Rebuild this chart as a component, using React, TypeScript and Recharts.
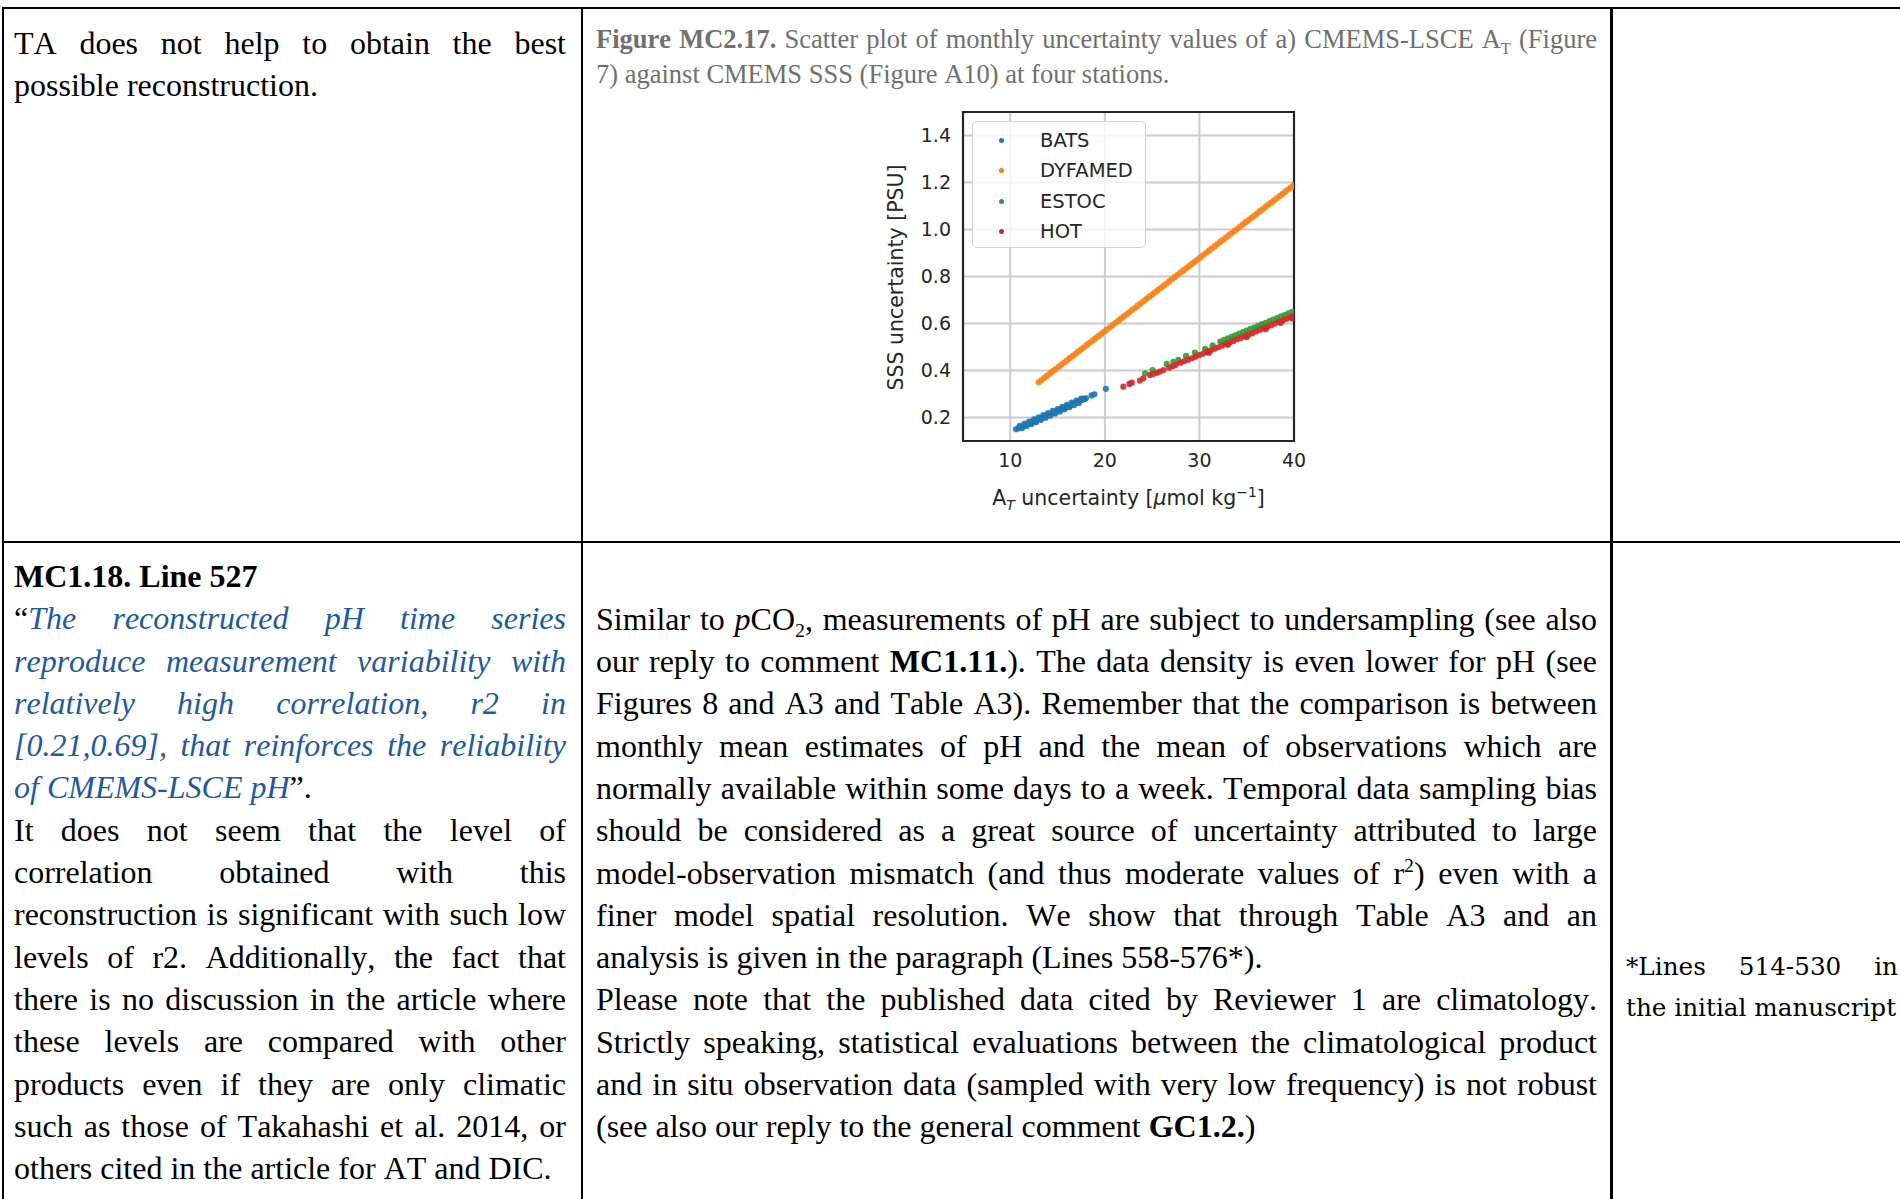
import React from 'react';
import { ScatterChart, Scatter, XAxis, YAxis, CartesianGrid, ReferenceArea, Legend, Label } from 'recharts';

const STATIONS = ['BATS', 'DYFAMED', 'ESTOC', 'HOT'];
const COLORS = ['#1f77b4', '#ff7f0e', '#2ca02c', '#d62728'];
const X_TICKS = [10, 20, 30, 40];
const Y_TICKS = [0.2, 0.4, 0.6, 0.8, 1.0, 1.2, 1.4];

// [A_T uncertainty, SSS uncertainty]
const BATS: [number, number][] = [
  [10.6, 0.15], [10.85, 0.154], [11.1, 0.159], [11.35, 0.163], [11.6, 0.168], [11.85, 0.172],
  [12.1, 0.177], [12.35, 0.181], [12.6, 0.186], [12.85, 0.19], [13.1, 0.195], [13.35, 0.199],
  [13.6, 0.203], [13.85, 0.208], [14.1, 0.212], [14.35, 0.217], [14.6, 0.221], [14.85, 0.226],
  [15.1, 0.23], [15.35, 0.235], [15.6, 0.239], [15.85, 0.244], [16.1, 0.248], [16.35, 0.252],
  [16.6, 0.257], [16.85, 0.261], [17.1, 0.266], [17.35, 0.27], [17.6, 0.275], [17.85, 0.279],
  [18.0, 0.282],
  [11.0, 0.165], [11.5, 0.174], [12.0, 0.183], [12.5, 0.192], [13.0, 0.201], [13.5, 0.21],
  [14.0, 0.219], [14.5, 0.228], [15.0, 0.236], [15.5, 0.245], [16.0, 0.254], [16.5, 0.263],
  [17.0, 0.272], [17.5, 0.28],
  [11.25, 0.155], [11.75, 0.164], [12.25, 0.172], [12.75, 0.181], [13.25, 0.19], [13.75, 0.199],
  [14.25, 0.208], [14.75, 0.217], [15.25, 0.226], [15.75, 0.235], [16.25, 0.244], [16.75, 0.253],
  [17.25, 0.262],
  [18.6, 0.294], [18.9, 0.299], [20.1, 0.322],
];

const DYFAMED: [number, number][] = [
  [13.0, 0.35], [13.3, 0.359], [13.6, 0.369], [13.9, 0.378], [14.2, 0.387], [14.5, 0.397],
  [14.8, 0.406], [15.1, 0.415], [15.4, 0.425], [15.7, 0.434], [16.0, 0.443], [16.3, 0.453],
  [16.6, 0.462], [16.9, 0.471], [17.2, 0.481], [17.5, 0.49], [17.8, 0.499], [18.1, 0.509],
  [18.4, 0.518], [18.7, 0.527], [19.0, 0.537], [19.3, 0.546], [19.6, 0.555], [19.9, 0.565],
  [20.2, 0.574], [20.5, 0.583], [20.8, 0.593], [21.1, 0.602], [21.4, 0.611], [21.7, 0.621],
  [22.0, 0.63], [22.3, 0.639], [22.6, 0.649], [22.9, 0.658], [23.2, 0.667], [23.5, 0.677],
  [23.8, 0.686], [24.1, 0.695], [24.4, 0.705], [24.7, 0.714], [25.0, 0.723], [25.3, 0.733],
  [25.6, 0.742], [25.9, 0.751], [26.2, 0.761], [26.5, 0.77], [26.8, 0.779], [27.1, 0.789],
  [27.4, 0.798], [27.7, 0.807], [28.0, 0.817], [28.3, 0.826], [28.6, 0.835], [28.9, 0.844],
  [29.2, 0.854], [29.5, 0.863], [29.8, 0.872], [30.1, 0.882], [30.4, 0.891], [30.7, 0.9],
  [31.0, 0.91], [31.3, 0.919], [31.6, 0.928], [31.9, 0.938], [32.2, 0.947], [32.5, 0.956],
  [32.8, 0.966], [33.1, 0.975], [33.4, 0.984], [33.7, 0.994], [34.0, 1.003], [34.3, 1.012],
  [34.6, 1.022], [34.9, 1.031], [35.2, 1.04], [35.5, 1.05], [35.8, 1.059], [36.1, 1.068],
  [36.4, 1.078], [36.7, 1.087], [37.0, 1.096], [37.3, 1.106], [37.6, 1.115], [37.9, 1.124],
  [38.2, 1.134], [38.5, 1.143], [38.8, 1.152], [39.1, 1.162], [39.4, 1.171], [39.7, 1.18],
  [40.0, 1.19],
];

const ESTOC: [number, number][] = [
  [24.25, 0.388], [25.05, 0.402], [26.54, 0.428], [27.24, 0.437], [27.77, 0.445], [28.58, 0.462],
  [29.53, 0.476], [30.6, 0.492], [31.4, 0.507],
  [32.2, 0.523], [32.6, 0.53], [33.0, 0.537], [33.4, 0.543], [33.8, 0.55], [34.2, 0.557],
  [34.6, 0.563], [35.0, 0.57], [35.4, 0.577], [35.8, 0.583], [36.2, 0.59], [36.6, 0.597],
  [37.0, 0.603], [37.4, 0.61], [37.8, 0.617], [38.2, 0.623], [38.6, 0.63], [39.0, 0.636],
  [39.4, 0.643], [39.8, 0.65],
];

const HOT: [number, number][] = [
  [21.95, 0.331], [22.6, 0.343], [22.85, 0.348], [23.7, 0.357], [24.07, 0.367], [24.77, 0.381],
  [25.1, 0.385], [25.5, 0.39], [25.8, 0.395], [26.2, 0.402], [26.8, 0.412], [27.2, 0.419],
  [27.5, 0.424], [28.0, 0.433], [28.4, 0.44], [28.8, 0.446], [29.2, 0.452], [29.6, 0.459],
  [30.0, 0.466], [30.4, 0.472], [30.8, 0.479], [31.2, 0.486], [31.6, 0.493], [32.0, 0.499],
  [32.4, 0.506], [32.8, 0.513], [33.2, 0.519], [33.6, 0.526], [34.0, 0.533], [34.4, 0.539],
  [34.8, 0.546], [35.2, 0.553], [35.6, 0.559], [36.0, 0.566], [36.4, 0.573], [36.8, 0.58],
  [37.2, 0.586], [37.6, 0.593], [38.0, 0.6], [38.4, 0.606], [38.8, 0.613], [39.2, 0.62],
  [39.6, 0.626], [39.9, 0.631],
  [31.0, 0.476], [33.0, 0.51], [35.0, 0.543], [37.0, 0.576], [38.6, 0.603], [39.8, 0.622],
];

const SERIES = [BATS, DYFAMED, ESTOC, HOT];

const SANS = 'DejaVu Sans';
const SERIF = '"Liberation Serif", "Times New Roman", serif';
const INK = '#262626';

const toPoints = (pairs: [number, number][]) => pairs.map(([x, y]) => ({ x, y }));

const Dot = (color: string) => (props: any) => (
  <circle cx={props.cx} cy={props.cy} r={3.1} fill={color} fillOpacity={0.9} />
);

const XLabel = ({ viewBox }: any) => {
  const { x, y, width } = viewBox;
  return (
    <text x={x + width / 2} y={y + 64} textAnchor="middle" fontFamily={SANS} fontSize={20.5} fill={INK}>
      A<tspan fontSize={14} fontStyle="italic" dy={5}>T</tspan>
      <tspan dy={-5}> uncertainty [</tspan>
      <tspan fontStyle="italic">μ</tspan>
      <tspan>mol kg</tspan>
      <tspan fontSize={14} dy={-8}>−1</tspan>
      <tspan dy={8}>]</tspan>
    </text>
  );
};

const YLabel = ({ viewBox }: any) => {
  const cx = viewBox.x + 23;
  const cy = viewBox.y + viewBox.height / 2 + 1;
  return (
    <text x={cx} y={cy} transform={`rotate(-90, ${cx}, ${cy})`} textAnchor="middle" fontFamily={SANS} fontSize={20.5} fill={INK}>
      SSS uncertainty [PSU]
    </text>
  );
};

const LegendBox = () => (
  <div
    style={{
      width: 172, height: 125, border: '1.8px solid #d2d2d2', borderRadius: 5,
      background: 'rgba(255,255,255,0.8)', position: 'relative', fontFamily: SANS,
    }}
  >
    {STATIONS.map((name, i) => (
      <div key={name} style={{ position: 'absolute', left: 0, top: 6 + i * 30.3, height: 26, width: '100%' }}>
        <div style={{ position: 'absolute', left: 26, top: 10, width: 5, height: 5, borderRadius: 3, background: COLORS[i] }} />
        <div style={{ position: 'absolute', left: 67, top: 0, fontSize: 19.5, lineHeight: '26px', color: INK }}>{name}</div>
      </div>
    ))}
  </div>
);

const Chart = () => (
  <ScatterChart width={440} height={430} margin={{ top: 22, right: 26, bottom: 0, left: 0 }}>
    <CartesianGrid stroke="#cccccc" strokeWidth={2} />
    <XAxis
      type="number" dataKey="x" domain={[5, 40]} ticks={X_TICKS} allowDataOverflow
      height={79} axisLine={false} tickLine={false} tickSize={0} tickMargin={13}
      tick={{ fontSize: 19, fill: INK, fontFamily: SANS }}
    >
      <Label content={XLabel} />
    </XAxis>
    <YAxis
      type="number" dataKey="y" domain={[0.1, 1.5]} ticks={Y_TICKS} allowDataOverflow
      width={83} axisLine={false} tickLine={false} tickSize={0} tickMargin={12}
      tickFormatter={(v: number) => v.toFixed(1)}
      tick={{ fontSize: 19, fill: INK, fontFamily: SANS }}
    >
      <Label content={YLabel} />
    </YAxis>
    {SERIES.map((s, i) => (
      <Scatter key={STATIONS[i]} name={STATIONS[i]} data={toPoints(s)} fill={COLORS[i]} shape={Dot(COLORS[i])} isAnimationActive={false} />
    ))}
    <ReferenceArea x1={5} x2={40} y1={0.1} y2={1.5} fill="none" stroke={INK} strokeWidth={2.2} ifOverflow="visible" />
    <Legend layout="vertical" align="center" verticalAlign="middle" wrapperStyle={{ left: 92, top: 31, width: 176 }} content={LegendBox} />
  </ScatterChart>
);

const line = (style: React.CSSProperties) => <div style={{ position: 'absolute', background: '#000', ...style }} />;
const sup: React.CSSProperties = { fontSize: '0.62em', verticalAlign: 'super', lineHeight: 0 };
const sub: React.CSSProperties = { fontSize: '0.62em', verticalAlign: 'sub', lineHeight: 0 };
const p: React.CSSProperties = { margin: 0 };

export default function App() {
  const body: React.CSSProperties = {
    position: 'absolute', fontFamily: SERIF, fontSize: 32, lineHeight: '42.3px', color: '#000',
    textAlign: 'justify', fontKerning: 'none',
  };
  return (
    <div style={{ position: 'absolute', left: 0, top: 0, width: 1900, height: 1199, background: '#fff', overflow: 'hidden' }}>
      {line({ left: 2, top: 7, width: 1898, height: 2 })}
      {line({ left: 2, top: 541, width: 1898, height: 2 })}
      {line({ left: 2, top: 7, width: 2, height: 1192 })}
      {line({ left: 581, top: 7, width: 2, height: 1192 })}
      {line({ left: 1610, top: 7, width: 3, height: 1192 })}

      <div style={{ ...body, left: 14, top: 22, width: 552 }}>
        TA does not help to obtain the best possible reconstruction.
      </div>

      <div style={{ ...body, left: 596, top: 22, width: 1001, fontSize: 26.5, lineHeight: '35px', color: '#707070' }}>
        <b>Figure MC2.17.</b> Scatter plot of monthly uncertainty values of a) CMEMS-LSCE A<span style={sub}>T</span> (Figure
        7) against CMEMS SSS (Figure A10) at four stations.
      </div>

      <div style={{ position: 'absolute', left: 880, top: 90 }}>
        <Chart />
      </div>

      <div style={{ ...body, left: 14, top: 555, width: 552 }}>
        <p style={{ ...p, fontWeight: 'bold' }}>MC1.18. Line 527</p>
        <p style={p}>
          “<i style={{ color: '#1d5aa5' }}>The reconstructed pH time series reproduce measurement variability with relatively high correlation, r2 in [0.21,0.69], that reinforces the reliability of CMEMS-LSCE pH</i>”.
        </p>
        <p style={p}>
          It does not seem that the level of correlation obtained with this reconstruction is significant with such low levels of r2. Additionally, the fact that there is no discussion in the article where these levels are compared with other products even if they are only climatic such as those of Takahashi et al. 2014, or others cited in the article for AT and DIC.
        </p>
      </div>

      <div style={{ ...body, left: 596, top: 597.8, width: 1001 }}>
        <p style={p}>
          Similar to <i>p</i>CO<span style={sub}>2</span>, measurements of pH are subject to undersampling (see also our reply to comment <b>MC1.11.</b>). The data density is even lower for pH (see Figures 8 and A3 and Table A3). Remember that the comparison is between monthly mean estimates of pH and the mean of observations which are normally available within some days to a week. Temporal data sampling bias should be considered as a great source of uncertainty attributed to large model-observation mismatch (and thus moderate values of r<span style={sup}>2</span>) even with a finer model spatial resolution. We show that through Table A3 and an analysis is given in the paragraph (Lines 558-576*).
        </p>
        <p style={p}>
          Please note that the published data cited by Reviewer 1 are climatology. Strictly speaking, statistical evaluations between the climatological product and in situ observation data (sampled with very low frequency) is not robust (see also our reply to the general comment <b>GC1.2.</b>)
        </p>
      </div>

      <div style={{ ...body, left: 1626, top: 946, width: 272, fontFamily: '"DejaVu Serif", serif', fontSize: 24.7, lineHeight: '41px' }}>
        <div style={{ textAlignLast: 'justify' }}>*Lines 514-530 in</div>
        <div style={{ whiteSpace: 'nowrap' }}>the initial manuscript</div>
      </div>
    </div>
  );
}
